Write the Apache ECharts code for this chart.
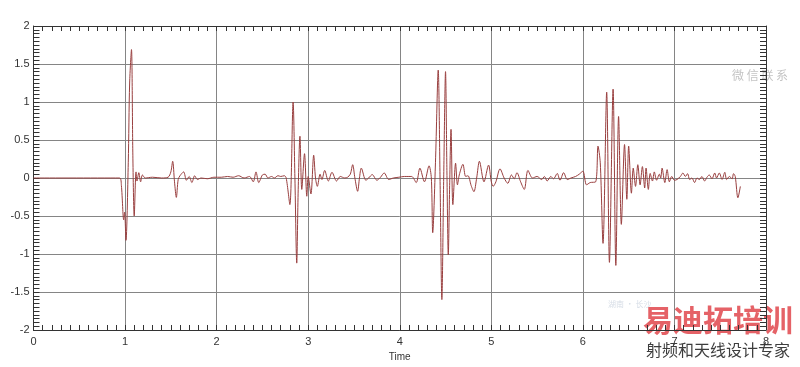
<!DOCTYPE html>
<html>
<head>
<meta charset="utf-8">
<script src="https://cdn.jsdelivr.net/npm/echarts@6/dist/echarts.min.js"></script>
<style>html,body{margin:0;padding:0;background:#fff}#c{width:800px;height:367px}</style>
</head>
<body>
<div id="c"></div>
<script>
// x ticks (Time) and y ticks
const xTicks = [0, 1, 2, 3, 4, 5, 6, 7, 8];
const yTicks = [-2, -1.5, -1, -0.5, 0, 0.5, 1, 1.5, 2];

// waveform samples [time, amplitude], per segment
const lead = [[0, 0], [0.94, 0]];
const burst1 = [[0.96, -0.1], [0.985, -0.55], [0.995, -0.45], [1.01, -0.82], [1.035, 0.2], [1.05, 1.25], [1.07, 1.69], [1.085, 0.3], [1.10, -0.5], [1.12, 0.08], [1.13, -0.04], [1.15, 0.07], [1.17, -0.05], [1.19, 0.04], [1.22, 0]];
const quiet1 = [[1.30, 0.01], [1.40, 0], [1.47, 0.01], [1.50, 0.08], [1.52, 0.22], [1.54, -0.05], [1.56, -0.255], [1.58, -0.02], [1.60, 0.03], [1.64, 0.08], [1.67, -0.03], [1.70, 0.02], [1.73, -0.06], [1.76, 0.03], [1.79, -0.02], [1.83, 0], [1.90, -0.01], [1.97, 0.01], [2.05, 0.01], [2.12, 0.02], [2.18, 0.01], [2.24, 0.03], [2.30, 0], [2.36, 0.02], [2.40, -0.05], [2.43, 0.08], [2.46, -0.06], [2.50, 0.04], [2.53, 0.05], [2.56, 0], [2.60, 0.02], [2.63, 0], [2.67, 0.03], [2.70, 0.02], [2.74, 0.03], [2.76, 0]];
const burst2 = [[2.80, -0.35], [2.835, 1.0], [2.855, 0], [2.875, -1.12], [2.89, -0.2], [2.91, 0.55], [2.93, -0.15], [2.96, 0.32], [2.985, -0.24], [3.00, 0.02], [3.03, -0.21], [3.06, 0.30], [3.08, 0], [3.10, -0.11]];
const quiet2 = [[3.13, 0.05], [3.15, -0.02], [3.18, 0.10], [3.22, -0.04], [3.26, 0.075], [3.31, -0.04], [3.35, 0.02], [3.40, 0], [3.43, 0.01], [3.46, 0.05], [3.486, 0.175], [3.51, 0], [3.54, -0.175], [3.56, 0], [3.58, 0.13], [3.63, -0.03], [3.66, 0], [3.70, 0.045], [3.75, -0.03], [3.79, 0.01], [3.83, 0.066], [3.88, -0.02], [3.93, 0], [3.99, 0.01], [4.05, 0.02], [4.13, 0.02], [4.18, -0.06], [4.22, 0.13], [4.27, -0.05], [4.32, 0.16], [4.345, 0]];
const burst3 = [[4.36, -0.72], [4.39, 0.2], [4.42, 1.42], [4.44, 0], [4.46, -1.6], [4.48, 0], [4.50, 1.40], [4.515, 0.1], [4.53, -1.01], [4.545, -0.1], [4.56, 0.64], [4.58, -0.35], [4.61, 0.195], [4.63, -0.09], [4.65, 0.04], [4.69, 0.18], [4.72, 0.02], [4.745, 0.03], [4.78, -0.1], [4.81, -0.18], [4.84, 0], [4.87, 0.22], [4.92, -0.05], [4.97, 0.17], [5.00, -0.05], [5.02, -0.11], [5.05, -0.05], [5.095, 0.12]];
const quiet3 = [[5.14, 0], [5.18, -0.07], [5.22, 0.04], [5.25, -0.01], [5.28, 0.07], [5.32, -0.05], [5.36, -0.15], [5.40, 0.1], [5.45, 0], [5.50, 0.02], [5.55, -0.02], [5.58, 0.02], [5.61, -0.04], [5.65, 0.02], [5.68, -0.01], [5.72, 0.06], [5.75, -0.03], [5.79, 0.07], [5.83, -0.02], [5.87, 0], [5.92, 0.02], [5.96, 0.05], [6.00, 0.09], [6.04, -0.09], [6.08, -0.06], [6.14, -0.05]];
const burst4 = [[6.165, 0.42], [6.19, 0.2], [6.22, -0.86], [6.26, 1.13], [6.29, -1.11], [6.33, 1.17], [6.36, -1.15], [6.39, 0.81], [6.42, -0.61], [6.455, 0.44], [6.48, -0.28], [6.50, 0.42], [6.53, -0.2], [6.55, 0.13], [6.575, -0.11], [6.60, 0.175], [6.625, -0.09], [6.65, 0.15], [6.675, -0.13], [6.69, 0.13], [6.715, -0.15], [6.735, 0.06], [6.76, -0.04], [6.78, 0.08], [6.805, -0.03], [6.835, 0.05], [6.85, 0], [6.865, 0.13], [6.895, -0.06], [6.92, 0.11], [6.945, -0.05], [6.97, 0.02], [7.0, -0.03]];
const tail = [[7.028, -0.02], [7.065, 0.02], [7.093, 0.066], [7.119, 0.02], [7.144, 0.057], [7.166, -0.02], [7.191, 0], [7.22, -0.06], [7.246, 0], [7.272, -0.02], [7.30, 0.02], [7.33, -0.04], [7.355, 0.01], [7.38, 0.04], [7.41, -0.01], [7.44, 0.066], [7.46, 0], [7.49, 0.066], [7.52, -0.02], [7.55, 0.075], [7.57, -0.02], [7.60, 0.02], [7.63, -0.01], [7.645, 0.057], [7.664, 0.02], [7.693, -0.26], [7.72, -0.11]];

const waveform = [].concat(lead, burst1, quiet1, burst2, quiet2, burst3, quiet3, burst4, tail);

const tickColor = '#333';
const gridColor = '#858585';
const font = 'Liberation Sans, Arial, sans-serif';

function xAx(pos, labels) {
  return {
    type: 'value', position: pos, min: xTicks[0], max: xTicks[xTicks.length - 1], interval: 1,
    axisLine: {show: true, onZero: false, lineStyle: {color: tickColor, width: 1}},
    axisTick: {show: true, inside: true, length: 5, lineStyle: {color: tickColor}},
    minorTick: {show: true, splitNumber: 10, length: 5, lineStyle: {color: tickColor}},
    splitLine: {show: labels, lineStyle: {color: gridColor, width: 1}},
    axisLabel: {show: labels, color: '#333', fontSize: 11, fontFamily: font, margin: 6},
    name: labels ? 'Time' : '', nameLocation: 'middle', nameGap: 22,
    nameTextStyle: {color: '#333', fontSize: 10, fontFamily: font}
  };
}
function yAx(pos, labels) {
  return {
    type: 'value', position: pos, min: yTicks[0], max: yTicks[yTicks.length - 1], interval: 0.5,
    axisLine: {show: true, onZero: false, lineStyle: {color: tickColor, width: 1}},
    axisTick: {show: true, inside: true, length: 6, lineStyle: {color: tickColor}},
    minorTick: {show: true, splitNumber: 10, length: 6, lineStyle: {color: tickColor}},
    splitLine: {show: labels, lineStyle: {color: gridColor, width: 1}},
    axisLabel: {show: labels, color: '#333', fontSize: 11, fontFamily: font, margin: 4}
  };
}

const chart = echarts.init(document.getElementById('c'), null, {renderer: 'canvas'});
chart.setOption({
  animation: false,
  backgroundColor: '#fff',
  grid: {left: 33.5, right: 34, top: 26, bottom: 37, containLabel: false},
  xAxis: [xAx('bottom', true), xAx('top', false)],
  yAxis: [yAx('left', true), yAx('right', false)],
  series: [{
    type: 'line', xAxisIndex: 0, yAxisIndex: 0, data: waveform, showSymbol: false,
    smooth: 0.3,
    lineStyle: {color: '#993f3f', width: 1}, z: 5
  }],
  graphic: [
    {type: 'text', left: 732, top: 69, style: {text: '微 信 联 系', fill: '#c4c4c4', font: '12px "Noto Sans CJK SC"'}},
    {type: 'text', left: 608, top: 300, style: {text: '湖南 · 长沙', fill: '#d6dde6', font: '8px "Noto Sans CJK SC"'}},
    {type: 'text', left: 643, top: 305, style: {text: '易迪拓培训', fill: '#e0474c', font: 'bold 30px "Noto Sans CJK SC"', opacity: 0.85}},
    {type: 'text', left: 646, top: 342, style: {text: '射频和天线设计专家', fill: '#3d3d3d', font: '16px "Noto Sans CJK SC"'}}
  ]
});
</script>
</body>
</html>
